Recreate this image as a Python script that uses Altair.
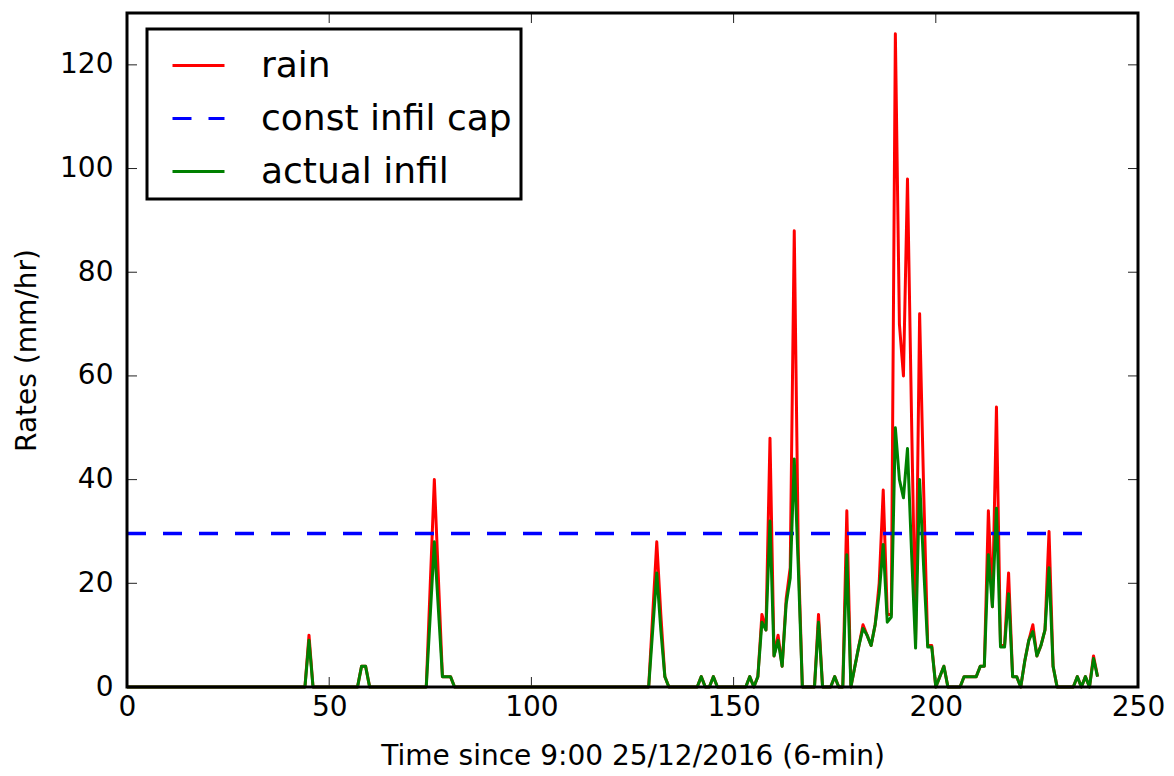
import altair as alt
import pandas as pd

# ---------------- data ----------------
T_END = 240
EVENT_T = [45, 58, 59, 75, 76, 77, 78, 79, 80,
           130, 131, 132, 133, 142, 145,
           154, 156, 157, 158, 159, 160, 161, 162, 163, 164, 165, 166,
           171, 175, 178, 180, 181, 182, 183, 184, 185, 186, 187, 188, 189,
           190, 191, 192, 193, 194, 195, 196, 197, 198, 199,
           201, 202, 207, 208, 209, 210, 211, 212, 213, 214, 215, 216, 217, 218, 219, 220,
           222, 223, 224, 225, 226, 227, 228, 229, 235, 237, 239, 240]
RAIN_V = [10, 4, 4, 20, 40, 21, 2, 2, 2,
          14, 28, 14, 2, 2, 2,
          2, 2, 14, 11, 48, 6, 10, 4, 17, 23, 88, 26,
          14, 2, 34, 4, 8, 12, 10, 8, 12, 20, 38, 14, 14,
          126, 70, 60, 98, 52, 9, 72, 38, 8, 8,
          2, 4, 2, 2, 2, 2, 4, 4, 34, 15.5, 54, 8, 8, 22, 2, 2,
          5, 9, 12, 6, 8, 11, 30, 4, 2, 2, 6, 2]
INFIL_V = [9, 4, 4, 14, 28, 15, 2, 2, 2,
           11, 22, 11, 2, 2, 2,
           2, 2, 12.5, 11, 32, 6, 9, 4, 16, 21, 44, 23,
           12.5, 2, 25.5, 4, 8, 11.3, 10, 8, 12, 18, 27.5, 12.5, 13.5,
           50, 40, 36.5, 46, 26, 7.5, 40, 23, 7.7, 7.7,
           2, 4, 2, 2, 2, 2, 4, 4, 25.5, 15.5, 34.5, 7.7, 7.7, 18, 2, 2,
           5, 9, 10.7, 6, 8, 11, 23, 4, 2, 2, 5.5, 2]
CAP = 29.6
SERIES = ["rain", "const infil cap", "actual infil"]
COLORS = ["#ff0000", "#0000ff", "#008000"]
X_LABELS = [0, 50, 100, 150, 200, 250]
Y_LABELS = [0, 20, 40, 60, 80, 100, 120]
X_TICKS = [50, 100, 150, 200]
Y_TICKS = [20, 40, 60, 80, 100, 120]

# zero everywhere except the read events
rain = [0.0] * (T_END + 1)
infil = [0.0] * (T_END + 1)
for t, r, f in zip(EVENT_T, RAIN_V, INFIL_V):
    rain[t] = r
    infil[t] = f

times = list(range(T_END + 1))
df_rain = pd.DataFrame({"t": times, "rate": rain, "series": "rain"})
df_inf = pd.DataFrame({"t": times, "rate": infil, "series": "actual infil"})
df_cap = pd.DataFrame({"t": [0, T_END], "rate": [CAP, CAP], "series": "const infil cap"})
df_xt = pd.DataFrame({"t": X_TICKS})
df_yt = pd.DataFrame({"rate": Y_TICKS})
df_frame = pd.DataFrame({"k": [0]})

FONT = "DejaVu Sans"
xs = alt.Scale(domain=[0, 250], nice=False, zero=False)
ys = alt.Scale(domain=[0, 130], nice=False)

X_AX = alt.Axis(values=X_LABELS, format="d", labelFontSize=28, labelFont=FONT, labelColor="black",
                ticks=False, domain=False, grid=False, labelPadding=6, labelFlush=False,
                title="Time since 9:00 25/12/2016 (6-min)", titleFont=FONT, titleFontSize=28,
                titleFontWeight="normal", titleColor="black", titlePadding=21)
Y_AX = alt.Axis(values=Y_LABELS, format="d", labelFontSize=28, labelFont=FONT, labelColor="black",
                ticks=False, domain=False, grid=False, labelPadding=14, labelFlush=False,
                title="Rates (mm/hr)", titleFont=FONT, titleFontSize=28,
                titleFontWeight="normal", titleColor="black", titlePadding=18)

X_ENC = alt.X("t:Q", scale=xs, axis=X_AX)
Y_ENC = alt.Y("rate:Q", scale=ys, axis=Y_AX)

LEG = alt.Legend(title=None, orient="none", legendX=20, legendY=16, padding=9,
                 symbolType="stroke", symbolSize=2704, symbolStrokeWidth=3, symbolOffset=15,
                 labelOffset=35, labelFontSize=36, labelFont=FONT, labelColor="black",
                 labelLimit=600, rowPadding=7, strokeColor="black", fillColor="white")

COL = alt.Color("series:N", scale=alt.Scale(domain=SERIES, range=COLORS), legend=LEG)
DASH = alt.StrokeDash("series:N", scale=alt.Scale(domain=SERIES, range=[[1, 0], [19, 17], [1, 0]]),
                      legend=LEG)

rain_line = alt.Chart(df_rain).mark_line(strokeWidth=3, strokeJoin="round").encode(
    x=X_ENC, y=Y_ENC, color=COL, strokeDash=DASH)
cap_line = alt.Chart(df_cap).mark_line(strokeWidth=3.5).encode(
    x=X_ENC, y=Y_ENC, color=COL, strokeDash=DASH)
inf_line = alt.Chart(df_inf).mark_line(strokeWidth=3, strokeJoin="round").encode(
    x=X_ENC, y=Y_ENC, color=COL, strokeDash=DASH)

# inward tick marks on all four sides
tick_style = dict(color="#222222", strokeWidth=1)
xt_bottom = alt.Chart(df_xt).mark_rule(**tick_style).encode(x=X_ENC, y=alt.value(664), y2=alt.value(674))
xt_top = alt.Chart(df_xt).mark_rule(**tick_style).encode(x=X_ENC, y=alt.value(0), y2=alt.value(10))
yt_left = alt.Chart(df_yt).mark_rule(**tick_style).encode(y=Y_ENC, x=alt.value(0), x2=alt.value(10))
yt_right = alt.Chart(df_yt).mark_rule(**tick_style).encode(y=Y_ENC, x=alt.value(1001), x2=alt.value(1011))

# axes frame drawn above the data lines
frame = alt.Chart(df_frame).mark_rect(filled=False, stroke="black", strokeWidth=3).encode(
    x=alt.value(0), x2=alt.value(1011), y=alt.value(0), y2=alt.value(674))

chart = alt.layer(xt_bottom, xt_top, yt_left, yt_right, rain_line, cap_line, inf_line, frame).properties(
    width=1011, height=674,
    padding={"left": 127, "top": 13, "right": 36, "bottom": 89},
    autosize=alt.AutoSizeParams(type="none"),
    background="white",
).configure_view(stroke=None).configure_legend(strokeWidth=3)

chart.save("out.html", embed_options={"renderer": "svg", "actions": False})
